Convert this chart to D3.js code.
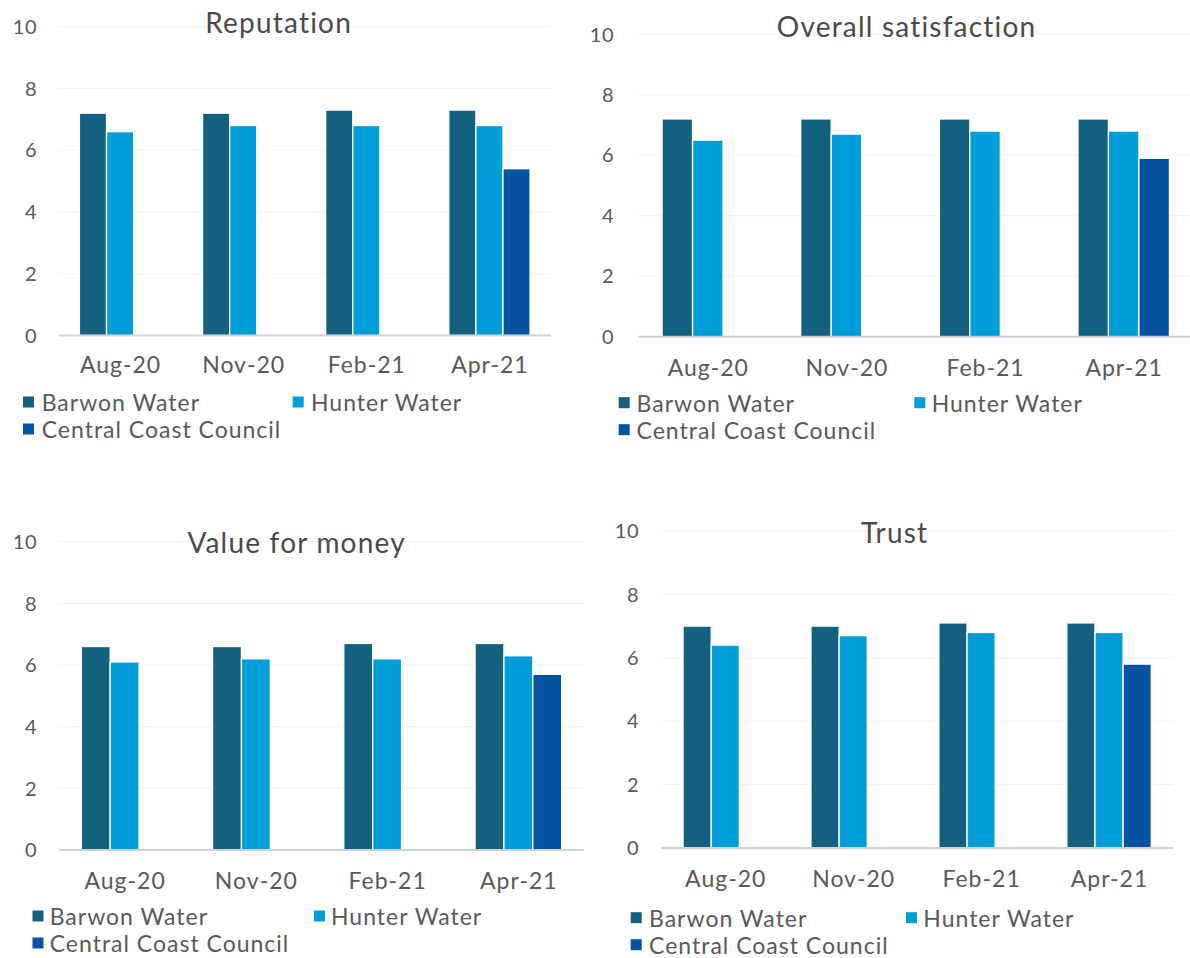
<!DOCTYPE html>
<meta charset="utf-8">
<script src="https://d3js.org/d3.v7.min.js"></script>
<style>
  body { margin: 0; background: #fff; }
  svg text { font-family: Lato, "Open Sans", sans-serif; fill: #595959; }
</style>
<svg id="chart" width="1190" height="958"></svg>
<script>

// categories, series, ticks
var periods = ["Aug-20", "Nov-20", "Feb-21", "Apr-21"];
var seriesNames = ["Barwon Water", "Hunter Water", "Central Coast Council"];
var seriesColors = ["#13607f", "#009ed9", "#0452a1"];
var yTicks = [0, 2, 4, 6, 8, 10];

// Reputation
var repBarwon = [7.2, 7.2, 7.3, 7.3];
var repHunter = [6.6, 6.8, 6.8, 6.8];
var repCentral = [null, null, null, 5.4];

// Overall satisfaction
var satBarwon = [7.2, 7.2, 7.2, 7.2];
var satHunter = [6.5, 6.7, 6.8, 6.8];
var satCentral = [null, null, null, 5.9];

// Value for money
var vfmBarwon = [6.6, 6.6, 6.7, 6.7];
var vfmHunter = [6.1, 6.2, 6.2, 6.3];
var vfmCentral = [null, null, null, 5.7];

// Trust
var trustBarwon = [7.0, 7.0, 7.1, 7.1];
var trustHunter = [6.4, 6.7, 6.8, 6.8];
var trustCentral = [null, null, null, 5.8];

var svg = d3.select("#chart");

// panel layouts
var panels = [
  { title: "Reputation", values: [repBarwon, repHunter, repCentral],
    left: 58.5, right: 551, yTop: 26.7, yZero: 335.5, labelRight: 37,
    titleX: 278, titleY: 33, xLabelY: 373,
    legendY: 411, legendX: [23, 41.7, 292.7, 311] },
  { title: "Overall satisfaction", values: [satBarwon, satHunter, satCentral],
    left: 638.5, right: 1193, yTop: 34.3, yZero: 336.7, labelRight: 614,
    titleX: 906, titleY: 37, xLabelY: 375.5,
    legendY: 411.7, legendX: [618.7, 636.6, 914.3, 931.7] },
  { title: "Value for money", values: [vfmBarwon, vfmHunter, vfmCentral],
    left: 59, right: 584, yTop: 541.7, yZero: 850, labelRight: 37,
    titleX: 296, titleY: 553, xLabelY: 889,
    legendY: 925, legendX: [32.5, 49.7, 314, 331] },
  { title: "Trust", values: [trustBarwon, trustHunter, trustCentral],
    left: 661.3, right: 1173, yTop: 531, yZero: 848, labelRight: 639,
    titleX: 894, titleY: 543, xLabelY: 886.7,
    legendY: 926.7, legendX: [630.7, 649, 906, 923.3] }
];

function drawPanel(p) {
  var g = svg.append("g");

  var y = d3.scaleLinear().domain([0, 10]).range([p.yZero, p.yTop]);
  var x0 = d3.scaleBand().domain(periods).range([p.left, p.right])
    .paddingInner(0.34).paddingOuter(0.17);
  var x1 = d3.scaleBand().domain(seriesNames).range([0, x0.bandwidth()]);

  // gridlines
  g.selectAll(".grid")
    .data(yTicks.filter(function(t) { return t > 0; }))
    .enter().append("line")
      .attr("x1", p.left).attr("x2", p.right)
      .attr("y1", function(d) { return y(d); })
      .attr("y2", function(d) { return y(d); })
      .attr("stroke", "#f2f2f2").attr("stroke-width", 1);

  // y labels
  g.selectAll(".ylab")
    .data(yTicks)
    .enter().append("text")
      .attr("x", p.labelRight)
      .attr("y", function(d) { return y(d); })
      .attr("dy", "0.36em")
      .attr("text-anchor", "end")
      .style("font-size", "20px")
      .style("letter-spacing", "0.5px")
      .text(function(d) { return d; });

  // bars
  var rows = periods.map(function(per, i) {
    return seriesNames.map(function(s, j) {
      return { period: per, series: s, color: seriesColors[j], value: p.values[j][i] };
    });
  });

  g.selectAll(".grp")
    .data(rows)
    .enter().append("g")
      .attr("transform", function(d) { return "translate(" + x0(d[0].period) + ",0)"; })
    .selectAll("rect")
    .data(function(d) { return d.filter(function(e) { return e.value != null; }); })
    .enter().append("rect")
      .attr("x", function(d) { return x1(d.series); })
      .attr("width", x1.bandwidth())
      .attr("y", function(d) { return y(d.value); })
      .attr("height", function(d) { return y(0) - y(d.value); })
      .attr("fill", function(d) { return d.color; })
      .attr("stroke", "#ffffff")
      .attr("stroke-width", 1.3);

  // axis line
  g.append("line")
    .attr("x1", p.left).attr("x2", p.right)
    .attr("y1", y(0)).attr("y2", y(0))
    .attr("stroke", "#ccd3dd").attr("stroke-width", 2);

  // x labels
  g.selectAll(".xlab")
    .data(periods)
    .enter().append("text")
      .attr("x", function(d) { return x0(d) + x0.bandwidth() / 2 + 0.5; })
      .attr("y", p.xLabelY)
      .attr("text-anchor", "middle")
      .style("font-size", "23px")
      .style("letter-spacing", "1px")
      .text(function(d) { return d; });

  // title
  g.append("text")
    .attr("x", p.titleX + 0.6)
    .attr("y", p.titleY)
    .attr("text-anchor", "middle")
    .style("font-size", "28px")
    .style("letter-spacing", "1.2px")
    .style("fill", "#4a4a4a")
    .text(p.title);

  // legend
  var legendPos = [
    { mx: p.legendX[0], tx: p.legendX[1], by: p.legendY },
    { mx: p.legendX[2], tx: p.legendX[3], by: p.legendY },
    { mx: p.legendX[0], tx: p.legendX[1], by: p.legendY + 27 }
  ];
  seriesNames.forEach(function(s, j) {
    var lp = legendPos[j];
    g.append("rect")
      .attr("x", lp.mx).attr("y", lp.by - 14.5)
      .attr("width", 11).attr("height", 11)
      .attr("fill", seriesColors[j]);
    g.append("text")
      .attr("x", lp.tx).attr("y", lp.by)
      .style("font-size", "23px")
      .style("letter-spacing", "1px")
      .text(s);
  });
}

panels.forEach(drawPanel);

</script>
